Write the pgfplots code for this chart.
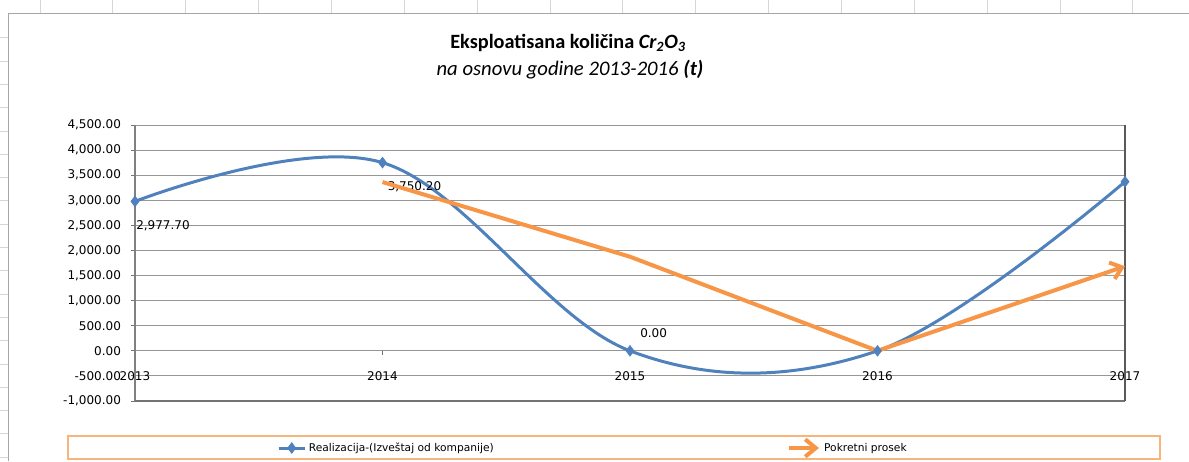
\documentclass[border=0pt]{standalone}
\usepackage{fontspec}
\setmainfont{DejaVu Sans}
\newfontfamily\carlito{Carlito}
\usepackage{pgfplots}
\pgfplotsset{compat=1.18}
\usetikzlibrary{arrows.meta}
\definecolor{xblue}{HTML}{4F81BD}
\definecolor{xorange}{HTML}{F79646}
\definecolor{xgrid}{HTML}{969696}
\definecolor{legborder}{HTML}{F9B47C}
\newcommand\smallf{\fontsize{8}{9}\selectfont}
\newcommand\tickf{\fontsize{9}{10}\selectfont}
\pgfplotsset{
  blueleg/.style={legend image code/.code={\draw[mark repeat=2, mark phase=2, ##1] plot coordinates {(0pt,0pt) (9.75pt,0pt) (19.5pt,0pt)};}},
  orangeleg/.style={legend image code/.code={\draw[##1] (0pt,0pt) -- (22.5pt,0pt);}},
}
\begin{document}
\begin{tikzpicture}
\path[use as bounding box] (0,0) rectangle (891.75pt,-345.75pt);
% spreadsheet cells behind the chart
\foreach \k in {0,...,15} \draw[black!16, line width=0.6pt] ({30pt+54.64pt*\k},0pt) -- ({30pt+54.64pt*\k},-10pt);
\foreach \k in {0,...,18} \draw[black!16, line width=0.6pt] (0pt,{-28.3pt-17.475pt*\k}) -- (6.5pt,{-28.3pt-17.475pt*\k});
\draw[black!35, line width=1.1pt] (6.5pt,-346pt) -- (6.5pt,-10pt) -- (892pt,-10pt);

\node[font=\carlito\bfseries\fontsize{15.2}{17}\selectfont] at (426pt,-32.25pt) {Eksploatisana količina \textit{Cr\textsubscript{2}O\textsubscript{3}}};
\node[font=\carlito\itshape\fontsize{15.5}{17}\selectfont] at (427.5pt,-52.5pt) {na osnovu godine 2013-2016 \textbf{(t)}};

\begin{axis}[
  at={(101.25pt,-300.75pt)}, anchor=south west,
  scale only axis, width=742.5pt, height=207pt,
  xmin=2013, xmax=2017, ymin=-1000, ymax=4500,
  clip=false,
  ytick={-1000,-500,...,4500},
  xtick={2013,2014,2015,2016,2017},
  xticklabels={2013,2014,2015,2016,2017},
  x tick style={draw=none},
  ymajorgrids, grid style={xgrid, line width=0.75pt},
  y tick style={black!55, line width=0.75pt},
  tick align=outside, major tick length=3pt,
  ytick pos=left,
  axis line style={draw=none},
  yticklabel style={font=\tickf, xshift=-4pt},
  xticklabel style={font=\tickf, anchor=center, yshift=21.75pt},
  /pgf/number format/.cd, fixed, fixed zerofill, precision=2, 1000 sep={,}, assume math mode=true,
  /pgfplots/.cd,
  legend style={at={(0.1434,-0.1703)}, anchor=west, draw=none, fill=none,
    inner sep=0pt, font=\smallf, legend columns=2,
    /tikz/every even column/.append style={column sep=218pt}},
  legend cell align=left,
]
\draw[black!50, line width=1pt] (rel axis cs:0,0) -- (rel axis cs:0,1);
\draw[black!55, line width=1.5pt] (rel axis cs:0,0) -- (rel axis cs:1,0);
\draw[black!65, line width=1.6pt] (rel axis cs:1,0) -- (rel axis cs:1,1);
\draw[black!55, line width=0.75pt] (axis cs:2014,0) -- ([yshift=-3pt]axis cs:2014,0);
\draw[black!55, line width=0.75pt] (axis cs:2015,0) -- ([yshift=-3pt]axis cs:2015,0);
\draw[black!55, line width=0.75pt] (axis cs:2016,0) -- ([yshift=-3pt]axis cs:2016,0);

\addplot[xblue, line width=2.25pt, smooth, tension=0.6, mark=diamond*, mark size=4pt,
  mark options={solid, fill=xblue, draw=xblue, line width=0.5pt}, blueleg]
  table {
x y
2013 2977.7
2014 3750.2
2015 0
2016 0
2017 3370
};
\addlegendentry{Realizacija-(Izveštaj od kompanije)}

\node[anchor=west, inner sep=0pt, font=\tickf, yshift=-18pt, xshift=0.75pt] at (axis cs:2013,2977.7) {2,977.70};
\node[anchor=west, inner sep=0pt, font=\tickf, yshift=-18pt, xshift=3.75pt] at (axis cs:2014,3750.2) {3,750.20};
\node[anchor=west, inner sep=0pt, font=\tickf, yshift=13.5pt, xshift=7.5pt] at (axis cs:2015,0) {0.00};

\addplot[xorange, line width=3pt, no marks, -{Straight Barb[length=8pt, width=13pt]}, orangeleg]
  table {
x y
2014 3363.95
2015 1875.10
2016 0
2017 1685
};
\addlegendentry{Pokretni prosek}
\end{axis}
\draw[legborder, line width=1.1pt] (51pt,-327pt) rectangle (870pt,-344.25pt);
\end{tikzpicture}
\end{document}
